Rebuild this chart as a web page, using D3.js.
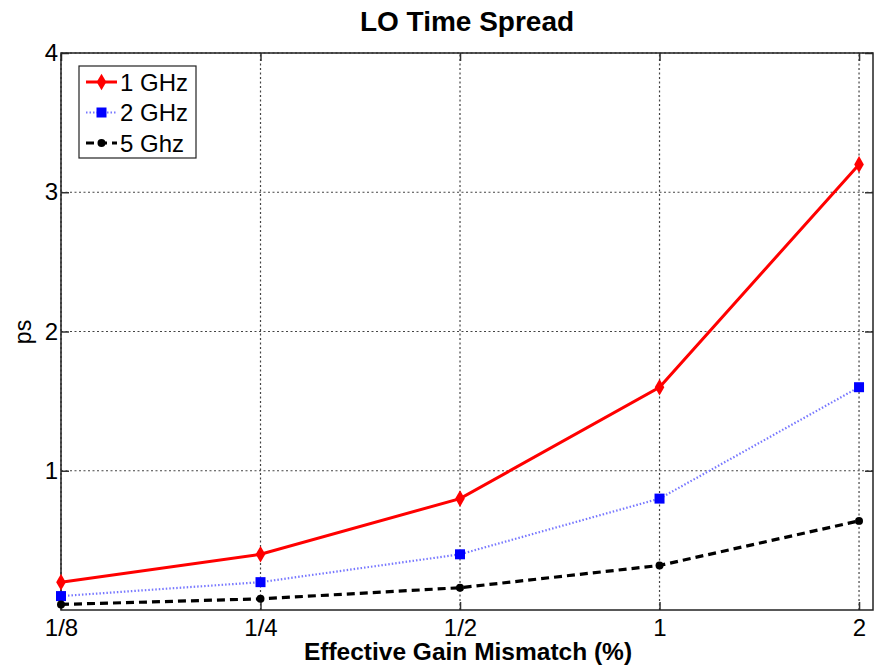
<!DOCTYPE html>
<html>
<head>
<meta charset="utf-8">
<script src="https://cdn.jsdelivr.net/npm/d3@7"></script>
<style>
  body { margin: 0; background: #fff; }
  svg { display: block; font-family: "Liberation Sans", Arial, sans-serif; }
</style>
</head>
<body>
<svg id="chart" width="874" height="665"></svg>
<script>
// Mismatch levels on the x axis
const categories = ["1/8", "1/4", "1/2", "1", "2"];
// Time spread (ps) per LO frequency
const series1GHz = [0.2, 0.4, 0.8, 1.6, 3.2];
const series2GHz = [0.1, 0.2, 0.4, 0.8, 1.6];
const series5GHz = [0.04, 0.08, 0.16, 0.32, 0.64];
const yTicks = [1, 2, 3, 4];
const seriesNames = ["1 GHz", "2 GHz", "5 Ghz"];

const svg = d3.select("#chart");
const margin = { left: 61, right: 1, top: 53, bottom: 55 };
const W = 874, H = 665;
const x0 = margin.left, x1 = W - margin.right, y0 = H - margin.bottom, y1 = margin.top;

const x = d3.scaleLinear().domain([0, 4.07]).range([x0, x1]);
const y = d3.scaleLinear().domain([0, 4]).range([y0, y1]);

const gridColor = "#444";
const labelSize = "24px";

// grid lines
const g = svg.append("g");
g.selectAll(".vgrid").data(categories).join("line")
  .attr("x1", (d, i) => x(i)).attr("x2", (d, i) => x(i))
  .attr("y1", y0).attr("y2", y1)
  .attr("stroke", gridColor).attr("stroke-width", 1.2)
  .attr("stroke-dasharray", "2,2.5");
g.selectAll(".hgrid").data(yTicks).join("line")
  .attr("x1", x0).attr("x2", x1)
  .attr("y1", d => y(d)).attr("y2", d => y(d))
  .attr("stroke", gridColor).attr("stroke-width", 1.2)
  .attr("stroke-dasharray", "2,2.5");

// axes with inward ticks, mirrored on the top and right
const tickLen = 8;
const xAxisB = d3.axisBottom(x).tickValues(d3.range(categories.length))
  .tickFormat(i => categories[i]).tickSizeInner(-tickLen).tickSizeOuter(0).tickPadding(8.5);
const xAxisT = d3.axisTop(x).tickValues(d3.range(categories.length))
  .tickFormat("").tickSizeInner(-tickLen).tickSizeOuter(0);
const yAxisL = d3.axisLeft(y).tickValues(yTicks).tickFormat(d3.format("d"))
  .tickSizeInner(-tickLen).tickSizeOuter(0).tickPadding(3);
const yAxisR = d3.axisRight(y).tickValues(yTicks).tickFormat("")
  .tickSizeInner(-tickLen).tickSizeOuter(0);

function styleAxis(sel) {
  sel.attr("font-size", null).attr("font-family", null);
  sel.select(".domain").remove();
  sel.selectAll(".tick line").attr("stroke", "#333").attr("stroke-width", 1.5);
  sel.selectAll(".tick text").attr("fill", "#000").style("font-size", labelSize);
}
svg.append("g").attr("transform", `translate(0,${y0})`).call(xAxisB).call(styleAxis);
svg.append("g").attr("transform", `translate(0,${y1})`).call(xAxisT).call(styleAxis);
svg.append("g").attr("transform", `translate(${x0},0)`).call(yAxisL).call(styleAxis);
svg.append("g").attr("transform", `translate(${x1},0)`).call(yAxisR).call(styleAxis);

// frame
svg.append("rect").attr("x", x0).attr("y", y1)
  .attr("width", x1 - x0).attr("height", y0 - y1)
  .attr("fill", "none").attr("stroke", "#222").attr("stroke-width", 1.5);

// series
const styles = [
  { data: series1GHz, stroke: "#ff0000", width: 3, dash: null, marker: "diamond", mcolor: "#ff0000" },
  { data: series2GHz, stroke: "#7777ff", width: 2.2, dash: "1.5,2", marker: "square", mcolor: "#0000ff" },
  { data: series5GHz, stroke: "#000000", width: 3.2, dash: "8,5", marker: "circle", mcolor: "#000000" }
];

const line = d3.line().x((d, i) => x(i)).y(d => y(d));
const symbolFor = {
  diamond: d3.symbol().type(d3.symbolDiamond).size(80),
  square: d3.symbol().type(d3.symbolSquare).size(100),
  circle: d3.symbol().type(d3.symbolCircle).size(50)
};

styles.forEach(s => {
  svg.append("path").datum(s.data).attr("d", line)
    .attr("fill", "none").attr("stroke", s.stroke).attr("stroke-width", s.width)
    .attr("stroke-dasharray", s.dash);
  svg.append("g").selectAll("path").data(s.data).join("path")
    .attr("transform", (d, i) => `translate(${x(i)},${y(d)})`)
    .attr("d", symbolFor[s.marker]())
    .attr("fill", s.mcolor);
});

// legend
const lg = svg.append("g").attr("transform", "translate(79,66)");
lg.append("rect").attr("width", 117).attr("height", 92)
  .attr("fill", "#fff").attr("stroke", "#222").attr("stroke-width", 1.2);
styles.forEach((s, i) => {
  const cy = 16 + i * 30.5;
  lg.append("line").attr("x1", 7).attr("x2", 38).attr("y1", cy).attr("y2", cy)
    .attr("stroke", s.stroke).attr("stroke-width", s.width).attr("stroke-dasharray", s.dash);
  lg.append("path").attr("transform", `translate(22.5,${cy})`)
    .attr("d", symbolFor[s.marker]()).attr("fill", s.mcolor);
  lg.append("text").attr("x", 41).attr("y", cy + 8.5)
    .style("font-size", labelSize).attr("fill", "#000").text(seriesNames[i]);
});

// titles
svg.append("text").attr("x", 467).attr("y", 31).attr("text-anchor", "middle")
  .style("font-size", "28px").style("font-weight", "bold").text("LO Time Spread");
svg.append("text").attr("x", 468).attr("y", 660).attr("text-anchor", "middle")
  .style("font-size", "24.5px").style("font-weight", "bold").text("Effective Gain Mismatch (%)");
svg.append("text").attr("transform", "translate(31,332) rotate(-90)").attr("text-anchor", "middle")
  .style("font-size", "23px").text("ps");
</script>
</body>
</html>
